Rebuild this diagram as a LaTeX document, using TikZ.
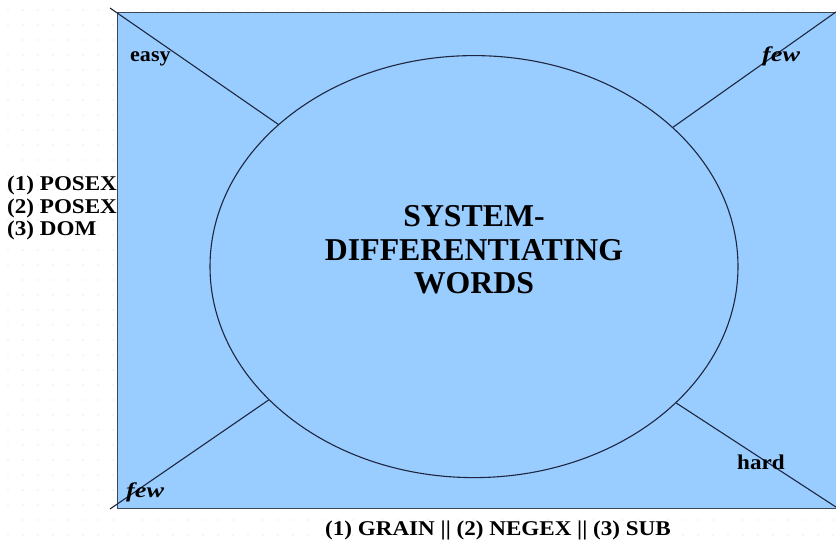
\documentclass[tikz,border=0pt]{standalone}
\usepackage{fontspec}
\setmainfont{Liberation Serif}
\usetikzlibrary{shapes.geometric}
\definecolor{fillblue}{HTML}{99CCFF}
\definecolor{edgegray}{HTML}{3C4656}
\definecolor{linenavy}{HTML}{1E2740}
\newcommand{\widen}[2]{\scalebox{#1}[1]{#2}}
\tikzset{
  lbl/.style={font=\bfseries\fontsize{21}{23}\selectfont, inner sep=0pt, anchor=base west},
  ilbl/.style={font=\bfseries\itshape\fontsize{21}{23}\selectfont, inner sep=0pt, anchor=base west},
  spoke/.style={draw=linenavy, line width=1.1pt},
}
\begin{document}
\begin{tikzpicture}[x=1pt,y=-1pt]
\useasboundingbox (0,0) rectangle (836,547);
\fill[white] (0,0) rectangle (836,547);
% faint dot grid
\foreach \i in {0,...,56} {
  \foreach \j in {0,...,37} {
    \fill[gray!28] (8+15*\i, 10+15*\j) circle (0.6pt);
  }
}
\node (box) [draw=edgegray, fill=fillblue, line width=1.3pt, minimum width=723pt, minimum height=495.5pt, inner sep=0pt, anchor=north west] at (117,12) {};
\coordinate (ctl) at (110,8);
\coordinate (ctr) at (838,10.5);
\coordinate (cbl) at (110,509);
\coordinate (cbr) at (839,509);
\node (el) [ellipse, draw=linenavy, fill=fillblue, line width=1.1pt, minimum width=528pt, minimum height=422pt, inner sep=0pt] at (474,266.6) {};
\draw[spoke] (ctl) -- (el.144.3);
\draw[spoke] (ctr) -- (el.35.5);
\draw[spoke] (cbl) -- (el.213.1);
\draw[spoke] (cbr) -- (el.326.9);
\node (title) [font=\bfseries\fontsize{31.8}{33.3}\selectfont, align=center, inner sep=0pt] at (474,250) {SYSTEM-\\DIFFERENTIATING\\WORDS};
\node (easy) [lbl] at (130,61.5) {\widen{1.05}{easy}};
\node (fewtr) [ilbl] at (762,61) {\widen{1.25}{few}};
\node (fewbl) [ilbl] at (126,497) {\widen{1.25}{few}};
\node (hard) [lbl] at (737,469) {\widen{1.1}{hard}};
\node (left) [font=\bfseries\fontsize{21}{22.5}\selectfont, align=left, inner sep=0pt, anchor=north west] at (7,176) {\widen{1.1}{(1) POSEX}\\\widen{1.1}{(2) POSEX}\\\widen{1.1}{(3) DOM}};
\node (bottom) [lbl] at (325,535) {\widen{1.1}{(1) GRAIN || (2) NEGEX || (3) SUB}};
\end{tikzpicture}
\end{document}
